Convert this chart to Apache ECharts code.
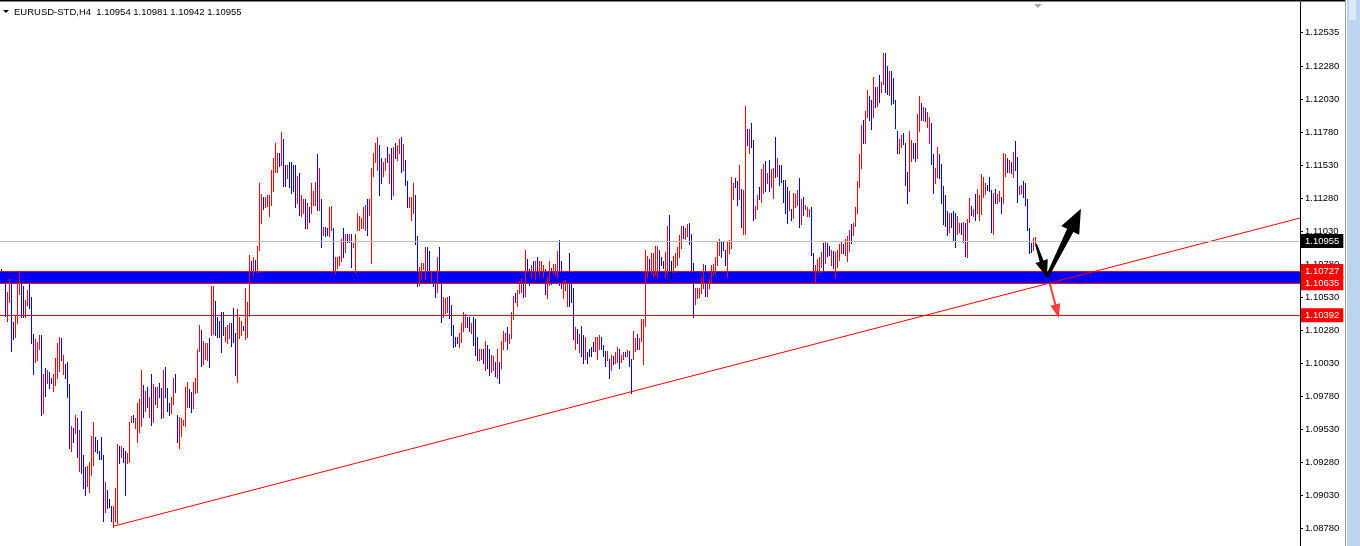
<!DOCTYPE html>
<html><head><meta charset="utf-8">
<script src="https://cdn.jsdelivr.net/npm/echarts@6/dist/echarts.min.js"></script>
<style>html,body{margin:0;padding:0;background:#fff;overflow:hidden}#c{width:1360px;height:546px}</style>
</head><body><div id="c"></div>
<script>
// ---------------- DATA ----------------
const symbolTitle = 'EURUSD-STD,H4';
const lastOHLC = [1.10954, 1.10981, 1.10942, 1.10955];

const barHigh = [
1.1074,1.1072,1.1064,1.1057,1.1067,1.1064,1.1034,1.1039,1.1064,1.1072,
1.1064,1.1061,1.1051,1.1058,1.1064,1.1053,1.1025,1.1021,1.1019,1.1024,
1.1024,1.0995,1.0999,1.0998,1.0996,1.0992,1.0995,1.1007,1.1018,1.1023,
1.1022,1.1009,1.1002,1.1004,1.0987,1.0955,1.0954,1.0964,1.0961,1.0952,
1.0967,1.0933,1.0924,1.0925,1.0928,1.0948,1.0958,1.0947,1.0945,1.0936,
1.0947,1.0933,1.0913,1.0907,1.0900,1.0895,1.0895,1.0908,1.0942,1.0940,
1.0940,1.0939,1.0936,1.0935,1.0958,1.0963,1.0964,1.0961,1.0973,1.0976,
1.0998,1.0986,1.0982,1.0985,1.0977,1.0995,1.0987,1.0985,1.0985,1.0988,
1.0984,1.0998,1.1000,1.0984,1.0973,1.0977,1.0992,1.0995,1.0964,1.0962,
1.0961,1.0960,1.0985,1.0989,1.0983,1.0981,1.0989,1.0992,1.1014,1.1032,
1.1028,1.1020,1.1018,1.1018,1.1022,1.1061,1.1061,1.1050,1.1038,1.1035,
1.1042,1.1042,1.1030,1.1032,1.1033,1.1033,1.1045,1.1026,1.1044,1.1038,
1.1035,1.1031,1.1060,1.1049,1.1085,1.1080,1.1083,1.1081,1.1092,1.1139,
1.1131,1.1129,1.1129,1.1130,1.1130,1.1149,1.1158,1.1170,1.1162,1.1162,
1.1178,1.1173,1.1153,1.1153,1.1155,1.1155,1.1153,1.1153,1.1145,1.1147,
1.1130,1.1127,1.1127,1.1124,1.1121,1.1139,1.1133,1.1140,1.1161,1.1151,
1.1127,1.1106,1.1106,1.1105,1.1121,1.1122,1.1105,1.1083,1.1083,1.1084,
1.1097,1.1105,1.1101,1.1101,1.1101,1.1101,1.1094,1.1101,1.1117,1.1114,
1.1113,1.1121,1.1123,1.1127,1.1127,1.1151,1.1162,1.1170,1.1174,1.1168,
1.1158,1.1155,1.1158,1.1167,1.1161,1.1166,1.1167,1.1170,1.1168,1.1173,
1.1174,1.1169,1.1157,1.1141,1.1129,1.1129,1.1139,1.1130,1.1099,1.1076,
1.1079,1.1079,1.1091,1.1091,1.1088,1.1072,1.1064,1.1064,1.1083,1.1091,
1.1071,1.1053,1.1052,1.1053,1.1054,1.1047,1.1032,1.1023,1.1023,1.1026,
1.1033,1.1042,1.1040,1.1038,1.1038,1.1033,1.1038,1.1036,1.1023,1.1014,
1.1014,1.1014,1.1020,1.1017,1.1014,1.1009,1.1008,1.1004,1.1014,1.1004,
1.1020,1.1027,1.1026,1.1030,1.1025,1.1042,1.1054,1.1056,1.1058,1.1065,
1.1067,1.1067,1.1089,1.1082,1.1074,1.1077,1.1080,1.1080,1.1083,1.1080,
1.1080,1.1077,1.1074,1.1068,1.1080,1.1075,1.1078,1.1078,1.1088,1.1096,
1.1080,1.1065,1.1066,1.1064,1.1086,1.1064,1.1060,1.1030,1.1029,1.1025,
1.1031,1.1024,1.1023,1.1011,1.1014,1.1015,1.1019,1.1023,1.1023,1.1024,
1.1023,1.1017,1.1012,1.1012,1.1006,1.1009,1.1008,1.1011,1.1015,1.1014,
1.1009,1.1011,1.1011,1.1013,1.1012,1.1006,1.1027,1.1022,1.1025,1.1022,
1.1036,1.1036,1.1089,1.1084,1.1082,1.1086,1.1086,1.1092,1.1092,1.1089,
1.1083,1.1080,1.1087,1.1107,1.1115,1.1080,1.1084,1.1086,1.1091,1.1100,
1.1107,1.1107,1.1105,1.1108,1.1109,1.1101,1.1079,1.1060,1.1060,1.1060,
1.1068,1.1078,1.1077,1.1064,1.1067,1.1077,1.1078,1.1083,1.1095,1.1097,
1.1095,1.1095,1.1089,1.1095,1.1096,1.1144,1.1139,1.1143,1.1141,1.1153,
1.1135,1.1134,1.1198,1.1180,1.1180,1.1185,1.1172,1.1122,1.1130,1.1136,
1.1150,1.1154,1.1156,1.1147,1.1157,1.1150,1.1151,1.1174,1.1158,1.1153,
1.1153,1.1142,1.1142,1.1136,1.1133,1.1120,1.1132,1.1131,1.1134,1.1143,
1.1127,1.1129,1.1123,1.1121,1.1120,1.1121,1.1086,1.1077,1.1082,1.1083,
1.1087,1.1094,1.1095,1.1094,1.1092,1.1089,1.1088,1.1087,1.1089,1.1093,
1.1095,1.1093,1.1097,1.1099,1.1104,1.1108,1.1109,1.1121,1.1141,1.1161,
1.1183,1.1187,1.1194,1.1210,1.1205,1.1202,1.1220,1.1212,1.1212,1.1221,
1.1216,1.1238,1.1238,1.1228,1.1224,1.1224,1.1219,1.1202,1.1179,1.1173,
1.1176,1.1177,1.1170,1.1148,1.1179,1.1172,1.1170,1.1170,1.1192,1.1205,
1.1200,1.1197,1.1196,1.1193,1.1189,1.1185,1.1161,1.1151,1.1167,1.1161,
1.1154,1.1137,1.1130,1.1118,1.1117,1.1117,1.1118,1.1117,1.1114,1.1109,
1.1109,1.1110,1.1109,1.1112,1.1128,1.1122,1.1120,1.1131,1.1135,1.1130,
1.1146,1.1144,1.1139,1.1138,1.1144,1.1134,1.1132,1.1135,1.1131,1.1133,
1.1129,1.1162,1.1161,1.1158,1.1157,1.1155,1.1163,1.1171,1.1159,1.1137,
1.1138,1.1141,1.1139,1.1127,1.1105,1.1094,1.1098,1.10981
];

const barLow = [
1.1064,1.1064,1.1039,1.1035,1.1049,1.1012,1.1021,1.1023,1.1033,1.1055,
1.1038,1.1038,1.1038,1.1047,1.1045,1.1018,1.0995,1.1004,1.1005,1.1014,
1.0964,1.0965,1.0978,1.0988,1.0984,1.0988,1.0982,1.0986,1.0992,1.0997,
1.1005,1.0995,1.0992,1.0977,1.0939,1.0936,1.0943,1.0950,1.0932,1.0921,
1.0920,1.0908,1.0903,1.0910,1.0905,1.0918,1.0926,1.0936,1.0935,1.0930,
1.0930,1.0883,1.0890,1.0893,1.0894,1.0883,1.0879,1.0883,1.0882,1.0927,
1.0932,1.0928,1.0903,1.0927,1.0928,1.0958,1.0958,1.0954,1.0943,1.0951,
1.0955,1.0962,1.0967,1.0970,1.0962,1.0956,1.0958,1.0972,1.0970,1.0977,
1.0961,1.0962,1.0977,1.0967,1.0964,1.0965,1.0972,1.0981,1.0943,1.0939,
1.0948,1.0956,1.0955,1.0970,1.0970,1.0966,1.0969,1.0980,1.0981,1.1012,
1.1001,1.1002,1.1006,1.1005,1.1000,1.1024,1.1025,1.1024,1.1023,1.1023,
1.1011,1.1024,1.1020,1.1018,1.1022,1.1016,1.1019,1.0994,1.0989,1.1022,
1.1024,1.1028,1.1021,1.1023,1.1039,1.1071,1.1070,1.1072,1.1072,1.1089,
1.1109,1.1120,1.1121,1.1122,1.1114,1.1123,1.1133,1.1148,1.1148,1.1152,
1.1153,1.1137,1.1137,1.1143,1.1136,1.1132,1.1133,1.1121,1.1124,1.1115,
1.1114,1.1117,1.1105,1.1105,1.1110,1.1117,1.1123,1.1123,1.1119,1.1119,
1.1091,1.1100,1.1099,1.1100,1.1099,1.1104,1.1072,1.1071,1.1075,1.1077,
1.1080,1.1083,1.1087,1.1095,1.1095,1.1076,1.1091,1.1072,1.1104,1.1104,
1.1105,1.1105,1.1104,1.1100,1.1115,1.1079,1.1145,1.1155,1.1149,1.1130,
1.1139,1.1145,1.1149,1.1155,1.1139,1.1127,1.1130,1.1158,1.1157,1.1162,
1.1148,1.1149,1.1138,1.1121,1.1121,1.1111,1.1117,1.1093,1.1061,1.1062,
1.1067,1.1074,1.1067,1.1072,1.1066,1.1064,1.1061,1.1053,1.1057,1.1068,
1.1034,1.1038,1.1041,1.1042,1.1037,1.1024,1.1015,1.1016,1.1018,1.1015,
1.1019,1.1027,1.1030,1.1030,1.1027,1.1026,1.1017,1.1009,1.1005,1.1005,
1.1006,1.1003,1.0998,1.0999,1.0994,1.0996,1.0998,1.0993,1.0992,1.0988,
1.0999,1.1014,1.1020,1.1014,1.1018,1.1022,1.1036,1.1049,1.1046,1.1056,
1.1057,1.1053,1.1054,1.1067,1.1062,1.1068,1.1071,1.1067,1.1070,1.1070,
1.1073,1.1068,1.1055,1.1052,1.1062,1.1063,1.1071,1.1070,1.1068,1.1062,
1.1060,1.1052,1.1058,1.1046,1.1046,1.1049,1.1021,1.1014,1.1018,1.1011,
1.1008,1.1003,1.1006,1.1003,1.1008,1.1008,1.1012,1.1012,1.1006,1.1014,
1.1014,1.1008,1.1001,1.1005,1.0992,1.0998,1.1002,1.1003,1.1004,1.0999,
1.1004,1.1006,1.1008,1.1008,1.1001,1.0980,1.1006,1.1012,1.1014,1.1014,
1.1020,1.1002,1.1031,1.1068,1.1070,1.1071,1.1069,1.1070,1.1068,1.1072,
1.1077,1.1075,1.1068,1.1071,1.1071,1.1066,1.1072,1.1076,1.1077,1.1083,
1.1090,1.1098,1.1097,1.1099,1.1093,1.1071,1.1038,1.1048,1.1052,1.1053,
1.1056,1.1060,1.1054,1.1054,1.1060,1.1064,1.1070,1.1071,1.1077,1.1085,
1.1083,1.1089,1.1077,1.1068,1.1086,1.1090,1.1127,1.1136,1.1123,1.1127,
1.1106,1.1101,1.1101,1.1168,1.1162,1.1167,1.1111,1.1113,1.1120,1.1127,
1.1125,1.1132,1.1133,1.1139,1.1133,1.1136,1.1128,1.1144,1.1145,1.1138,
1.1140,1.1125,1.1117,1.1109,1.1119,1.1111,1.1113,1.1121,1.1123,1.1106,
1.1108,1.1115,1.1120,1.1114,1.1114,1.1085,1.1071,1.1064,1.1072,1.1072,
1.1076,1.1072,1.1079,1.1084,1.1085,1.1077,1.1075,1.1068,1.1076,1.1081,
1.1086,1.1086,1.1085,1.1080,1.1088,1.1094,1.1100,1.1107,1.1117,1.1136,
1.1151,1.1170,1.1170,1.1189,1.1187,1.1180,1.1189,1.1197,1.1198,1.1201,
1.1208,1.1214,1.1208,1.1207,1.1206,1.1199,1.1200,1.1181,1.1162,1.1162,
1.1167,1.1169,1.1138,1.1124,1.1133,1.1156,1.1158,1.1156,1.1158,1.1179,
1.1187,1.1187,1.1186,1.1182,1.1170,1.1154,1.1132,1.1139,1.1144,1.1143,
1.1124,1.1108,1.1107,1.1100,1.1102,1.1106,1.1096,1.1091,1.1101,1.1102,
1.1101,1.1095,1.1084,1.1083,1.1110,1.1115,1.1114,1.1111,1.1117,1.1111,
1.1116,1.1129,1.1131,1.1134,1.1133,1.1102,1.1101,1.1124,1.1124,1.1126,
1.1117,1.1124,1.1145,1.1148,1.1148,1.1147,1.1144,1.1149,1.1125,1.1131,
1.1132,1.1129,1.1123,1.1104,1.1086,1.1087,1.1089,1.10942
];

const barDir =
'bbbrrbbrrr'+'bbrrbbbrrr'+'brbrbbrrrr'+'brbbbrbrbr'+'bbbrrrrbbb'+
'bbrbnbrrrb'+'rbbrrrbrrr'+'rbrbrbrbrb'+'brbbbrrbbr'+'rrrrbbrrrr'+
'brrrbrrbbb'+'bbrrrbbbrr'+'rbrrrbrbrr'+'rbrrrrrrrb'+'rbbrbbbbrb'+
'rrbrbrrrbr'+'brbbrrbrrr'+'rbrbrbrrrr'+'rrrbrrrrrb'+'brrbrbrbrr'+
'brbbrrrbbr'+'rrrbbrbbrb'+'brrrbbbbbr'+'rrrbbrbbbr'+'rbrbbrrbrb'+
'rrrbrrrbrr'+'rbrbbrbrbr'+'rrbrrbrrrb'+'brrrbbbrbr'+'bbrbbbbrrr'+
'bbbrbrbrrb'+'rrbrbbrrbr'+'rrrrbrrrrb'+'bbrrbnrrrr'+'rbrrbbbrrr'+
'rrbrrrrrrr'+'bbbrrrrbbr'+'brrbrbbrrb'+'rrbrbrrbrb'+'bbbbrbrrrb'+
'rbrrrbbrrr'+'rbrbbrbrrr'+'rbrrrbrrrr'+'rbrrbbrbrb'+'rrbbrbbbbr'+
'rbbbrrbbrr'+'brbrrbbrrb'+'bbbbrbbbrr'+'brbrrbrbrr'+'rrrnbbrbrr'+
'brrbrbrbbr'+'rbbbbbrr';

const yTickValues = [1.08780,1.09030,1.09280,1.09530,1.09780,1.10030,1.10280,1.10530,
                     1.10780,1.11030,1.11280,1.11530,1.11780,1.12030,1.12280,1.12535];

const currentPrice = 1.10955;
const zoneTop = 1.10727;
const zoneBottom = 1.10635;
const supportLevel = 1.10392;

// trend line drawn object: [bar index, price]
const trendLine = [[56.3, 1.08795], [649.3, 1.11128]];
// arrow drawing objects: [bar index, price] from -> to
const arrowDown = [[517.3, 1.10932], [522.8, 1.10680]];
const arrowUp = [[522.8, 1.10680], [539.8, 1.11198]];
const arrowRed = [[524.3, 1.10628], [528.8, 1.10371]];

// ---------------- CHART ----------------
const FONT = '"Liberation Sans", Arial, sans-serif';
const FS = 9.5;
const chart = echarts.init(document.getElementById('c'), null, {renderer: 'canvas', width: 1360, height: 546});

const barData = barHigh.map((h, i) => {
  const d = barDir[i];
  return [i, h, barLow[i], d === 'r' ? 1 : (d === 'b' ? -1 : 0)];
});

function tag(value, bg) {
  return {
    show: true, position: 'end', distance: 1,
    formatter: () => value.toFixed(5),
    color: '#fff', backgroundColor: bg, padding: [2, 4, 2, 4],
    fontSize: FS, fontFamily: FONT
  };
}

chart.setOption({
  animation: false,
  backgroundColor: '#ffffff',
  grid: {left: 0, right: 60, top: 0, bottom: 0, containLabel: false},
  xAxis: {type: 'value', min: -0.665, max: 649.335, show: false},
  yAxis: {
    type: 'value', position: 'right', min: 1.08644, max: 1.12780,
    axisLine: {show: true, onZero: false, lineStyle: {color: '#000', width: 1}},
    axisTick: {show: true, length: 3, lineStyle: {color: '#000'}, customValues: yTickValues},
    axisLabel: {show: true, customValues: yTickValues, formatter: v => v.toFixed(5),
      color: '#000', fontSize: FS, fontFamily: FONT, margin: 5},
    splitLine: {show: false}
  },
  series: [
    {
      type: 'line', data: [], z: 1, silent: true,
      markArea: {silent: true, itemStyle: {color: '#0000ff', opacity: 1},
        data: [[{yAxis: zoneTop}, {yAxis: zoneBottom}]]},
      markLine: {
        silent: true, symbol: ['none', 'none'], animation: false, precision: 5,
        data: [
          {yAxis: currentPrice, lineStyle: {color: '#c0c0c0', width: 1, type: 'solid'}, label: tag(currentPrice, '#000000')},
          {yAxis: zoneTop, lineStyle: {color: '#ff0000', width: 1, type: 'solid'}, label: tag(zoneTop, '#ff0000')},
          {yAxis: zoneBottom, lineStyle: {color: '#ff0000', width: 1, type: 'solid'}, label: tag(zoneBottom, '#ff0000')},
          {yAxis: supportLevel, lineStyle: {color: '#ff0000', width: 1, type: 'solid'}, label: tag(supportLevel, '#ff0000')}
        ]
      }
    },
    {
      type: 'custom', z: 3, silent: true,
      data: barData,
      renderItem: function (params, api) {
        const k = api.value(0), hi = api.value(1), lo = api.value(2), d = api.value(3);
        const p1 = api.coord([k, hi]);
        const p2 = api.coord([k, lo]);
        const x = Math.floor(p1[0]) + 0.5;
        const y1 = Math.round(p1[1]);
        const y2 = Math.max(Math.round(p2[1]), y1 + 1);
        return {
          type: 'line',
          shape: {x1: x, y1: y1, x2: x, y2: y2 + 1},
          style: {stroke: d > 0 ? '#ff0000' : (d < 0 ? '#0000ff' : '#000000'), lineWidth: 1}
        };
      }
    },
    {
      type: 'line', z: 4, silent: true, data: trendLine, symbol: 'none',
      lineStyle: {color: '#ff0000', width: 1}
    }
  ]
});

function arrowShape(a, b, w0, w1, headLen, headW) {
  const dx = b[0] - a[0], dy = b[1] - a[1], L = Math.hypot(dx, dy);
  const ux = dx / L, uy = dy / L, nx = -uy, ny = ux;
  const bx = b[0] - ux * headLen, by = b[1] - uy * headLen;
  return [
    [a[0] + nx * w0 / 2, a[1] + ny * w0 / 2],
    [bx + nx * w1 / 2, by + ny * w1 / 2],
    [bx + nx * headW / 2, by + ny * headW / 2],
    [b[0], b[1]],
    [bx - nx * headW / 2, by - ny * headW / 2],
    [bx - nx * w1 / 2, by - ny * w1 / 2],
    [a[0] - nx * w0 / 2, a[1] - ny * w0 / 2]
  ];
}
const px = v => chart.convertToPixel({xAxisIndex: 0, yAxisIndex: 0}, v);

const headerText = symbolTitle + '  ' + lastOHLC.map(v => v.toFixed(5)).join(' ');

chart.setOption({
  graphic: [
    {type: 'rect', shape: {x: 0, y: 0, width: 1346, height: 1}, style: {fill: '#000'}, z: 10, silent: true},
    {type: 'rect', shape: {x: 0, y: 1, width: 1346, height: 1}, style: {fill: '#808080'}, z: 10, silent: true},
    {type: 'polygon', shape: {points: [[3, 10], [9, 10], [6, 13]]}, style: {fill: '#000'}, z: 10, silent: true},
    {type: 'text', x: 14, y: 12, style: {text: headerText, fill: '#000', font: FS + 'px ' + FONT, textVerticalAlign: 'middle'}, z: 10, silent: true},
    {type: 'polygon', shape: {points: [[1034, 4], [1042, 4], [1038, 8]]}, style: {fill: '#a8a8a8'}, z: 10, silent: true},
    {type: 'rect', shape: {x: 1345, y: 0, width: 1, height: 546}, style: {fill: '#a0a0a0'}, z: 10, silent: true},
    {type: 'rect', shape: {x: 1347, y: 0, width: 13, height: 546}, style: {fill: '#bcd4ee'}, z: 10, silent: true},
    {type: 'rect', shape: {x: 1349, y: 0, width: 7, height: 20}, style: {fill: '#dce9f7'}, z: 10, silent: true},
    {type: 'polygon', shape: {points: arrowShape(px(arrowDown[0]), px(arrowDown[1]), 2, 4, 17, 13)}, style: {fill: '#000'}, z: 20, silent: true},
    {type: 'polygon', shape: {points: arrowShape(px(arrowUp[0]), px(arrowUp[1]), 3, 7, 24, 20)}, style: {fill: '#000'}, z: 20, silent: true},
    {type: 'polygon', shape: {points: arrowShape(px(arrowRed[0]), px(arrowRed[1]), 2, 2, 14, 10)}, style: {fill: '#ff3c3c'}, z: 20, silent: true}
  ]
});
</script>
</body></html>
